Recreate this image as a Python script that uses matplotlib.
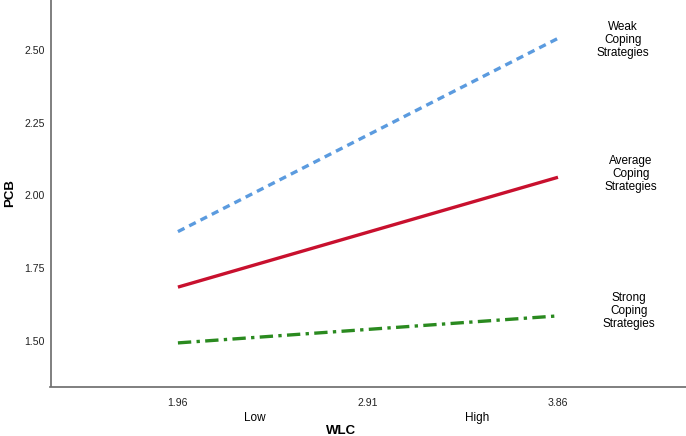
import numpy as np
import matplotlib.pyplot as plt

plt.rcParams['font.family'] = ['Liberation Sans', 'DejaVu Sans']

wlc = [1.96, 3.86]
weak = [1.875, 2.54]
average = [1.684, 2.062]
strong = [1.492, 1.585]

y_ticks = [1.50, 1.75, 2.00, 2.25, 2.50]
x_ticks = [1.96, 2.91, 3.86]

fig = plt.figure(figsize=(6.86, 4.36), dpi=100)
ax = fig.add_axes([50.5 / 686, 1 - 386.5 / 436, 1 - 50.5 / 686, 386.5 / 436])

ax.plot(wlc, weak, color='#5b9bdf', lw=2.4, dashes=(2.2, 1.6))
ax.plot(wlc, average, color='#c8102e', lw=2.4, solid_capstyle='butt')
ax.plot(wlc, strong, color='#2a8a1f', lw=2.4, dashes=(4, 1.6, 1, 1.6))

ax.set_xlim(1.323, 4.50)
ax.set_ylim(1.342, 2.672)
ax.set_xticks(x_ticks)
ax.set_xticklabels(['%.2f' % v for v in x_ticks])
ax.set_yticks(y_ticks)
ax.set_yticklabels(['%.2f' % v for v in y_ticks])
ax.tick_params(length=0, labelsize=7.6, colors='#222222')
ax.tick_params(axis='y', pad=4)
ax.tick_params(axis='x', pad=8)

for s in ['top', 'right']:
    ax.spines[s].set_visible(False)
for s in ['left', 'bottom']:
    ax.spines[s].set_color('#6a6a6a')
    ax.spines[s].set_linewidth(1.2)

# group labels along the x axis
fig.text(255 / 686, 1 - 418 / 436, 'Low', ha='center', va='center', fontsize=8.5)
fig.text(477 / 686, 1 - 418 / 436, 'High', ha='center', va='center', fontsize=8.5)
fig.text(341 / 686, 1 - 431 / 436, 'WLC', ha='center', va='center', fontsize=9.5, fontweight='bold')
fig.text(10 / 686, 1 - 193 / 436, 'PCB', ha='center', va='center', fontsize=9.5,
         fontweight='bold', rotation=90)

# line labels
fig.text(623 / 686, 1 - 40 / 436, 'Weak\nCoping\nStrategies', ha='center', va='center',
         fontsize=8.5, linespacing=1.08)
fig.text(631 / 686, 1 - 174 / 436, 'Average\nCoping\nStrategies', ha='center', va='center',
         fontsize=8.5, linespacing=1.08)
fig.text(629 / 686, 1 - 311 / 436, 'Strong\nCoping\nStrategies', ha='center', va='center',
         fontsize=8.5, linespacing=1.08)

fig.savefig('out.png', dpi=100)
